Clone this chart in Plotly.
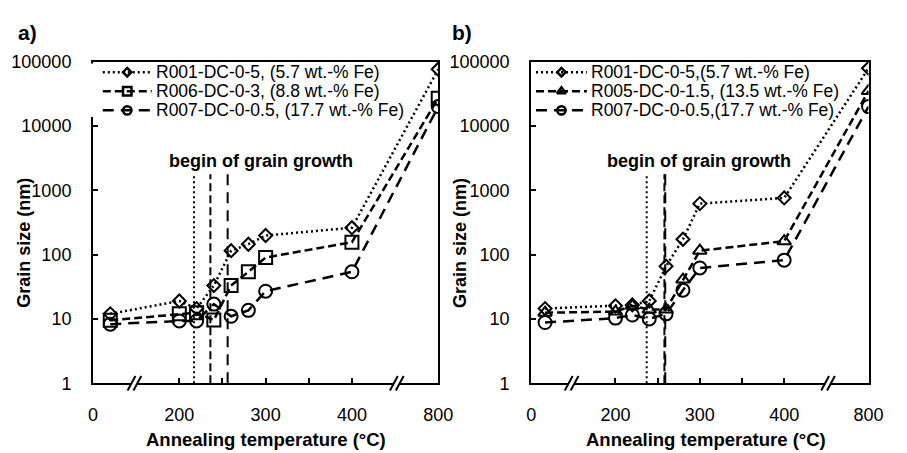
import plotly.graph_objects as go

# ---------------- data ----------------
tick_temps = [0, 200, 250, 300, 350, 400, 800]
tick_text = ["0", "200", "", "300", "", "400", "800"]
y_tickvals = [1, 10, 100, 1000, 10000, 100000]
y_ticktext = ["1", "10", "100", "1000", "10000", "100000"]

temps_a = [40, 200, 220, 240, 260, 280, 300, 400, 800]
r001_a = [12, 19, 14.5, 33, 115, 145, 198, 262, 76000]
r006_a = [9.5, 12, 12.5, 9.6, 33, 54, 90, 156, 27000]
r007_a = [8.3, 9.3, 9.3, 17, 11, 13.6, 27, 54, 20000]
names_a = ["R001-DC-0-5, (5.7 wt.-% Fe)", "R006-DC-0-3, (8.8 wt.-% Fe)",
           "R007-DC-0-0.5, (17.7 wt.-% Fe)"]
onset_a = [217, 236, 256]

temps_b = [33, 200, 220, 240, 260, 280, 300, 400, 800]
r001_b = [14.5, 16, 16.5, 19, 66, 173, 620, 760, 79000]
r005_b = [12.5, 13, 16, 14, 14, 41, 115, 162, 35000]
r007_b = [8.8, 10.3, 11.5, 10, 12, 28, 62, 82, 20000]
names_b = ["R001-DC-0-5,(5.7 wt.-% Fe)", "R005-DC-0-1.5, (13.5 wt.-% Fe)",
           "R007-DC-0-0.5,(17.7 wt.-% Fe)"]
onset_b = [237, 258, 259]
onset_top = 1780
break_pos = [0.48, 3.52]


def tpos(t):
    """broken temperature axis: 0-200 | 200-400 linear | 800"""
    if t < 200:
        return t / 200.0
    if t <= 400:
        return 1 + (t - 200) / 100.0
    return 3 + (t - 400) / 400.0


FONT = "Liberation Sans, Arial, sans-serif"
DOT = "2px,3px"
DASH = "8px,4px"
LDASH = "11px,7px"

W, H = 907, 453
PL_TOP, PL_BOT = 54, 390.5
PA = (90, 443)
PB = (538, 883)

fig = go.Figure()

styles_a = [("diamond-open", 10, DOT), ("square-open", 13, DASH), ("circle-open", 13, LDASH)]
styles_b = [("diamond-open", 10, DOT), ("triangle-up-open", 12, DASH), ("circle-open", 13, LDASH)]

for xa, ya, temps, series, styles, onsets in [
    ("x", "y", temps_a, [r001_a, r006_a, r007_a], styles_a, onset_a),
    ("x2", "y2", temps_b, [r001_b, r005_b, r007_b], styles_b, onset_b),
]:
    # begin of grain growth vertical lines
    for t, (_, _, dash) in zip(onsets, styles):
        fig.add_trace(go.Scatter(
            x=[tpos(t), tpos(t)], y=[1, onset_top], mode="lines",
            line=dict(color="black", width=2, dash=dash),
            xaxis=xa, yaxis=ya, showlegend=False, hoverinfo="skip"))
    for vals, (sym, size, dash) in zip(series, styles):
        fig.add_trace(go.Scatter(
            x=[tpos(t) for t in temps], y=vals, mode="lines+markers",
            line=dict(color="black", width=2.5, dash=dash),
            marker=dict(symbol=sym, size=size, color="black",
                        line=dict(color="black", width=2)),
            xaxis=xa, yaxis=ya, showlegend=False))

# ---- manual legends drawn on a pixel overlay axis ----
leg_a = dict(x0=100, x1=150, ys=[65, 85, 105], tx=153)
leg_b = dict(x0=543, x1=595, ys=[65, 85, 105], tx=598)
annotations = []
for leg, names, styles in [(leg_a, names_a, styles_a), (leg_b, names_b, styles_b)]:
    for yy, nm, (sym, size, dash) in zip(leg["ys"], names, styles):
        xm = (leg["x0"] + leg["x1"]) / 2
        fig.add_trace(go.Scatter(
            x=[leg["x0"], leg["x1"]], y=[yy, yy], mode="lines",
            line=dict(color="black", width=2.5, dash=dash),
            xaxis="x3", yaxis="y3", showlegend=False, hoverinfo="skip"))
        fig.add_trace(go.Scatter(
            x=[xm], y=[yy], mode="markers",
            marker=dict(symbol=sym, size=size * 0.65, color="black",
                        line=dict(color="black", width=2.5)),
            xaxis="x3", yaxis="y3", showlegend=False, hoverinfo="skip"))
        annotations.append(dict(
            x=leg["tx"], y=yy, xref="x3", yref="y3", text=nm, showarrow=False,
            xanchor="left", yanchor="middle", borderpad=0,
            font=dict(family=FONT, size=17.5, color="black")))

# texts
for px, txt in [((PA[0] + PA[1]) / 2, "Annealing temperature (°C)"),
                ((PB[0] + PB[1]) / 2 + 6, "Annealing temperature (°C)")]:
    annotations.append(dict(x=px, y=449, xref="x3", yref="y3", text="<b>%s</b>" % txt,
                            showarrow=False, xanchor="center", yanchor="middle",
                            font=dict(family=FONT, size=18.5, color="black")))
for px in [20, 466]:
    annotations.append(dict(x=px, y=244, xref="x3", yref="y3", text="<b>Grain size (nm)</b>",
                            textangle=-90, showarrow=False, xanchor="center", yanchor="middle",
                            font=dict(family=FONT, size=18, color="black")))
for px, txt in [(262, "begin of grain growth"), (710, "begin of grain growth")]:
    annotations.append(dict(x=px, y=158, xref="x3", yref="y3", text="<b>%s</b>" % txt,
                            showarrow=False, xanchor="center", yanchor="middle",
                            font=dict(family=FONT, size=18, color="black")))
for px, txt in [(23, "a)"), (467, "b)")]:
    annotations.append(dict(x=px, y=24, xref="x3", yref="y3", text="<b>%s</b>" % txt,
                            showarrow=False, xanchor="center", yanchor="middle",
                            font=dict(family=FONT, size=21, color="black")))

# break marks on the temperature axes
shapes = []
for xa, unit in [("x", 88.25), ("x2", 86.25)]:
    for bp in break_pos:
        px = 1.0 / unit
        shapes.append(dict(type="rect", xref=xa, yref="y3", x0=bp - 3 * px, x1=bp + 3 * px,
                           y0=386, y1=395, fillcolor="white", line=dict(width=0), layer="above"))
        for off in (-3, 3):
            shapes.append(dict(type="line", xref=xa, yref="y3",
                               x0=bp + (off - 4) * px, y0=398, x1=bp + (off + 4) * px, y1=383,
                               line=dict(color="black", width=2), layer="above"))
# legend box of panel a hides the top of its left axis line
shapes.append(dict(type="rect", xref="x3", yref="y3", x0=87, x1=93, y0=56, y1=112,
                   fillcolor="white", line=dict(width=0), layer="above"))

axis_common = dict(showline=True, linecolor="black", linewidth=2, mirror=True,
                   ticks="inside", ticklen=5, tickwidth=1.5, tickcolor="black",
                   showgrid=False, zeroline=False, fixedrange=True,
                   tickfont=dict(family=FONT, size=18, color="black"))
xcommon = dict(axis_common, range=[0, 4], tickmode="array",
               tickvals=[tpos(t) for t in tick_temps], ticktext=tick_text,
               ticklabelstandoff=14)
ycommon = dict(axis_common, type="log", range=[0, 5], tickmode="array",
               tickvals=y_tickvals, ticktext=y_ticktext, ticklabelstandoff=16)

ydom = [1 - PL_BOT / H, 1 - PL_TOP / H]
fig.update_layout(
    width=W, height=H, margin=dict(l=0, r=0, t=0, b=0),
    paper_bgcolor="white", plot_bgcolor="rgba(0,0,0,0)",
    showlegend=False,
    xaxis=dict(xcommon, domain=[PA[0] / W, PA[1] / W], anchor="y"),
    yaxis=dict(ycommon, domain=ydom, anchor="x"),
    xaxis2=dict(xcommon, domain=[PB[0] / W, PB[1] / W], anchor="y2"),
    yaxis2=dict(ycommon, domain=ydom, anchor="x2"),
    xaxis3=dict(domain=[0, 1], range=[0, W], visible=False, anchor="y3", fixedrange=True),
    yaxis3=dict(domain=[0, 1], range=[H, 0], visible=False, anchor="x3", fixedrange=True),
    annotations=annotations, shapes=shapes,
)

fig.write_html("out.html")
